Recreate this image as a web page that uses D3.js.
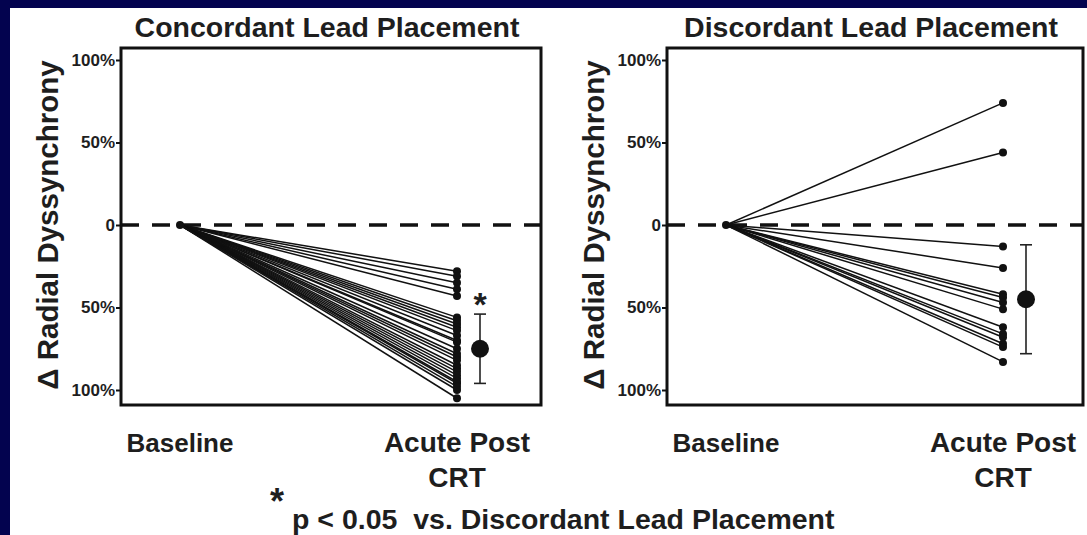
<!DOCTYPE html>
<html>
<head>
<meta charset="utf-8">
<script src="https://cdn.jsdelivr.net/npm/d3@7/dist/d3.min.js"></script>
<style>
  html, body { margin: 0; padding: 0; background: #03034f; }
  svg { display: block; }
  text { font-family: "Liberation Sans", Arial, Helvetica, sans-serif; font-weight: bold; fill: #1e1e1e; white-space: pre; }
</style>
</head>
<body>
<script>
// Change in radial dyssynchrony (%) from baseline to acute post-CRT
const categories = ["Baseline", "Acute Post CRT"];
const panelTitles = ["Concordant Lead Placement", "Discordant Lead Placement"];
const yTicks = [-100, -50, 0, 50, 100];

const baselineValue = 0;
const concordantPost = [-28, -31, -35, -39, -43, -56, -58, -60, -62, -64, -67, -70, -71, -75,
  -78, -80, -82, -85, -87, -89, -91, -93, -95, -96, -98, -100, -105];
const discordantPost = [74, 44, -13, -26, -42, -44, -47, -51, -62, -66, -68, -72, -74, -83];

const concordantMean = -75, concordantSD = 21;
const discordantMean = -45, discordantSD = 33;

const panels = [
  { title: panelTitles[0], post: concordantPost, mean: concordantMean, sd: concordantSD, star: true, left: 121, right: 541 },
  { title: panelTitles[1], post: discordantPost, mean: discordantMean, sd: discordantSD, star: false, left: 667, right: 1083 }
];

const W = 1087, H = 535;
const svg = d3.select("body").append("svg").attr("width", W).attr("height", H);

// white plate over the navy slide background
svg.append("rect").attr("x", 10).attr("y", 8).attr("width", W - 10).attr("height", H - 8).attr("fill", "#ffffff");

const y = d3.scaleLinear().domain([-100, 100]).range([390, 60]);
const frameTop = 48, frameBottom = 405;
const fmt = d => d === 0 ? "0" : Math.abs(d) + "%";

panels.forEach(p => {
  const g = svg.append("g");
  const x = d3.scaleLinear().domain([0, 1]).range([p.left + 59, p.left + 336]);
  const meanX = x(1) + 23;

  // title
  g.append("text").attr("x", (p.left + p.right) / 2 - 4).attr("y", 37)
    .attr("text-anchor", "middle").style("font-size", "28.5px").text(p.title);

  // zero reference line
  g.append("line").attr("x1", p.left).attr("x2", p.right).attr("y1", y(0)).attr("y2", y(0))
    .attr("stroke", "#111").attr("stroke-width", 3.6).attr("stroke-dasharray", "18,13");

  // subject lines
  g.selectAll("line.subj").data(p.post).join("line").attr("class", "subj")
    .attr("x1", x(0)).attr("y1", y(baselineValue)).attr("x2", x(1)).attr("y2", d => y(d))
    .attr("stroke", "#111").attr("stroke-width", 1.5);
  g.append("circle").attr("cx", x(0)).attr("cy", y(baselineValue)).attr("r", 4).attr("fill", "#111");
  g.selectAll("circle.pt").data(p.post).join("circle").attr("class", "pt")
    .attr("cx", x(1)).attr("cy", d => y(d)).attr("r", 4).attr("fill", "#111");

  // mean ± SD
  g.append("line").attr("x1", meanX).attr("x2", meanX).attr("y1", y(p.mean + p.sd)).attr("y2", y(p.mean - p.sd))
    .attr("stroke", "#222").attr("stroke-width", 1.6);
  [p.mean + p.sd, p.mean - p.sd].forEach(v => {
    g.append("line").attr("x1", meanX - 6).attr("x2", meanX + 6).attr("y1", y(v)).attr("y2", y(v))
      .attr("stroke", "#222").attr("stroke-width", 1.6);
  });
  g.append("circle").attr("cx", meanX).attr("cy", y(p.mean)).attr("r", 9).attr("fill", "#111");
  if (p.star) {
    g.append("text").attr("x", meanX).attr("y", y(p.mean + p.sd) + 2).attr("text-anchor", "middle")
      .style("font-size", "34px").text("*");
  }

  // frame
  g.append("rect").attr("x", p.left).attr("y", frameTop).attr("width", p.right - p.left).attr("height", frameBottom - frameTop)
    .attr("fill", "none").attr("stroke", "#111").attr("stroke-width", 3);

  // y axis
  const axis = g.append("g").attr("transform", `translate(${p.left},0)`)
    .call(d3.axisLeft(y).tickValues(yTicks).tickFormat(fmt).tickSize(5).tickPadding(1));
  axis.select(".domain").remove();
  axis.selectAll(".tick line").attr("stroke", "#111").attr("stroke-width", 2);
  axis.selectAll(".tick text").style("font-size", "17px").style("font-family", null).attr("fill", "#1e1e1e");

  // y label
  g.append("text").attr("transform", `translate(${p.left - 73},${y(0)}) rotate(-90)`)
    .attr("text-anchor", "middle").attr("dy", "0.35em").style("font-size", "29.5px").text("\u0394 Radial Dyssynchrony");

  // x labels
  g.append("text").attr("x", x(0)).attr("y", 452).attr("text-anchor", "middle").style("font-size", "26px").text(categories[0]);
  const acute = g.append("text").attr("x", x(1)).attr("y", 452).attr("text-anchor", "middle").style("font-size", "28px");
  acute.append("tspan").attr("x", x(1)).text("Acute Post");
  acute.append("tspan").attr("x", x(1)).attr("dy", 35).text("CRT");
});

// footnote
svg.append("text").attr("x", 277).attr("y", 514).attr("text-anchor", "middle").style("font-size", "36px").text("*");
svg.append("text").attr("x", 292).attr("y", 529).style("font-size", "28.5px").text("p < 0.05  vs. Discordant Lead Placement");
</script>
</body>
</html>
